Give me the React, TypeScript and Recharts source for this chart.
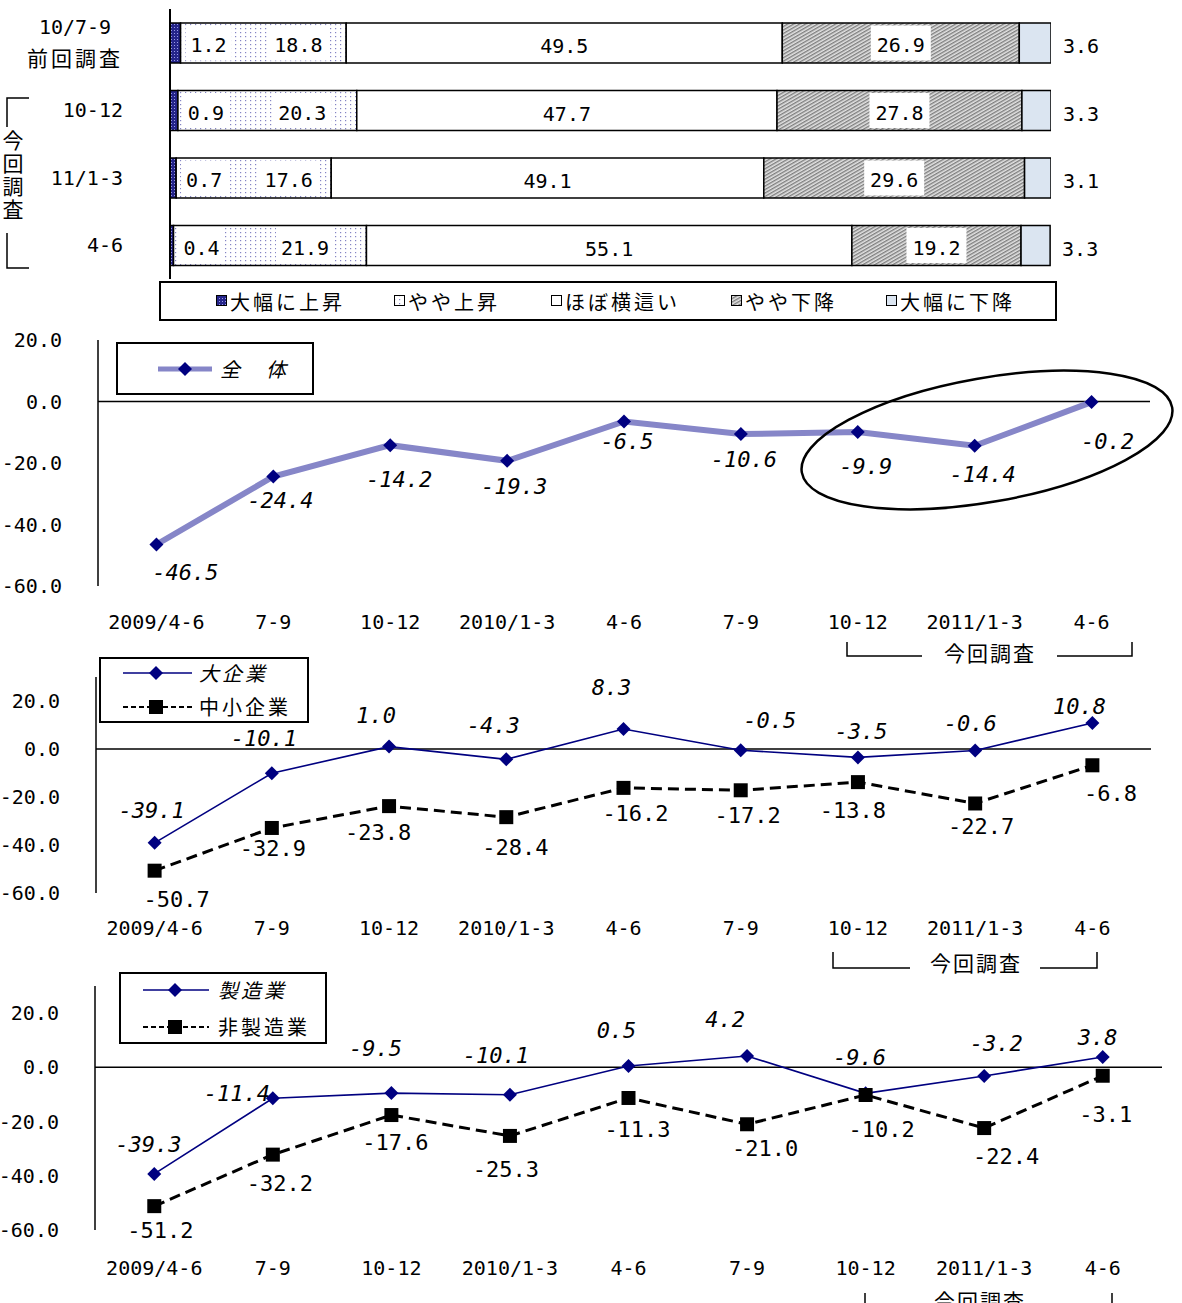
import React from "react";
import {
  BarChart,
  Bar,
  LineChart,
  Line,
  XAxis,
  YAxis,
  ReferenceLine,
  Legend,
} from "recharts";

const NUM_FONT = '"DejaVu Sans Mono", "Noto Sans CJK JP", monospace';
const JP_FONT = '"Noto Sans CJK JP", "Noto Sans", sans-serif';

// --- stacked bar (survey share, %) ---
const surveyRows = ["10/7-9", "10-12", "11/1-3", "4-6"];
const trendNames = ["大幅に上昇", "やや上昇", "ほぼ横這い", "やや下降", "大幅に下降"];
const bigRise = [1.2, 0.9, 0.7, 0.4];
const smallRise = [18.8, 20.3, 17.6, 21.9];
const flatShare = [49.5, 47.7, 49.1, 55.1];
const smallFall = [26.9, 27.8, 29.6, 19.2];
const bigFall = [3.6, 3.3, 3.1, 3.3];

// --- DI lines ---
const quarters = ["2009/4-6", "7-9", "10-12", "2010/1-3", "4-6", "7-9", "10-12", "2011/1-3", "4-6"];
const overall = [-46.5, -24.4, -14.2, -19.3, -6.5, -10.6, -9.9, -14.4, -0.2];
const largeFirms = [-39.1, -10.1, 1.0, -4.3, 8.3, -0.5, -3.5, -0.6, 10.8];
const smallFirms = [-50.7, -32.9, -23.8, -28.4, -16.2, -17.2, -13.8, -22.7, -6.8];
const manufacturing = [-39.3, -11.4, -9.5, -10.1, 0.5, 4.2, -9.6, -3.2, 3.8];
const nonManufacturing = [-51.2, -32.2, -17.6, -25.3, -11.3, -21.0, -10.2, -22.4, -3.1];
const valueTicks = [-60, -40, -20, 0, 20];

// label nudges (px) so the numbers sit where the original put them
const overallShift = [[29, 28], [7, 24], [9, 34], [7, 26], [3, 20], [3, 25], [8, 35], [8, 29], [16, 39]];
const largeShift = [[-3, -32], [-8, -35], [-13, -31], [-13, -34], [-12, -42], [29, -30], [3, -26], [-5, -27], [-13, -17]];
const smallShift = [[22, 29], [1, 21], [-11, 26], [9, 30], [12, 26], [7, 25], [-5, 28], [6, 23], [18, 28]];
const mfgShift = [[-6, -29], [-36, -5], [-16, -45], [-14, -39], [-12, -35], [-22, -36], [-6, -36], [12, -33], [-5, -20]];
const nonMfgShift = [[6, 24], [7, 29], [4, 27], [-4, 34], [9, 32], [18, 24], [16, 35], [22, 28], [3, 39]];

const barFills = ["url(#pBigRise)", "url(#pSmallRise)", "#ffffff", "url(#pSmallFall)", "#dbe5f1"];
const barLegendX = [216, 394, 551, 731, 886];

const geo = (p: any) => {
  const vb = p.viewBox || {};
  return {
    x: Number(vb.x ?? p.x),
    y: Number(vb.y ?? p.y),
    w: Number(vb.width ?? p.width ?? 0),
    h: Number(vb.height ?? p.height ?? 0),
  };
};

const rowIndex = (p: any) => (typeof p.index === "number" ? p.index : 0);

const NumText = ({ x, y, text, size = 20, italic = false, anchor = "middle" }: any) => (
  <text
    x={x}
    y={y}
    textAnchor={anchor}
    dominantBaseline="central"
    fontFamily={NUM_FONT}
    fontSize={size}
    fontStyle={italic ? "italic" : "normal"}
    fill="#000"
  >
    {text}
  </text>
);

const boxed = (cx: number, cy: number, h: number, w: number, text: string) => (
  <g>
    <rect x={cx - w / 2} y={cy - h / 2} width={w} height={h} fill="#fff" />
    <NumText x={cx} y={cy + 2} text={text} />
  </g>
);

// stacked labels: the value given to the label is the stack top, so read the share itself by row
const smallRiseLabel = (p: any) => {
  const { x, y, w, h } = geo(p);
  const i = rowIndex(p);
  const cy = y + h / 2;
  return (
    <g>
      {boxed(x + 28, cy, h - 5, 46, bigRise[i].toFixed(1))}
      {boxed(x + w / 2 + 35, cy, h - 5, 58, smallRise[i].toFixed(1))}
    </g>
  );
};

const flatLabel = (p: any) => {
  const { x, y, w, h } = geo(p);
  return <NumText x={x + w / 2} y={y + h / 2 + 3} text={flatShare[rowIndex(p)].toFixed(1)} />;
};

const smallFallLabel = (p: any) => {
  const { x, y, w, h } = geo(p);
  return boxed(x + w / 2, y + h / 2, h - 5, 60, smallFall[rowIndex(p)].toFixed(1));
};

const bigFallLabel = (p: any) => {
  const { x, y, w, h } = geo(p);
  return <NumText x={x + w + 30} y={y + h / 2 + 3} text={bigFall[rowIndex(p)].toFixed(1)} />;
};

const SurveyTick = ({ x, y, payload }: any) => {
  if (payload.value === surveyRows[0]) {
    return (
      <g fontFamily={NUM_FONT} fill="#000">
        <text x={x - 95} y={y - 16} textAnchor="middle" dominantBaseline="central" fontSize={20}>
          {payload.value}
        </text>
        <text x={x - 95} y={y + 16} textAnchor="middle" dominantBaseline="central" fontSize={21} letterSpacing={3}>
          前回調査
        </text>
      </g>
    );
  }
  return (
    <text x={x - 47} y={y} textAnchor="end" dominantBaseline="central" fontFamily={NUM_FONT} fontSize={20} fill="#000">
      {payload.value}
    </text>
  );
};

const BarLegend = () => (
  <div
    style={{
      width: 898,
      height: 40,
      boxSizing: "border-box",
      border: "2px solid #000",
      background: "#fff",
      position: "relative",
    }}
  >
    {trendNames.map((name, i) => (
      <div
        key={name}
        style={{
          position: "absolute",
          left: barLegendX[i] - 161,
          top: 0,
          height: 36,
          display: "flex",
          alignItems: "center",
          fontFamily: JP_FONT,
          fontSize: 20,
          letterSpacing: 3,
          whiteSpace: "nowrap",
        }}
      >
        <svg width={12} height={12} style={{ marginRight: 2 }}>
          <rect x={0.5} y={0.5} width={10} height={10} fill={barFills[i]} stroke="#000" strokeWidth={1} />
        </svg>
        <span>{name}</span>
      </div>
    ))}
  </div>
);

function SurveyBars() {
  const rows = surveyRows.map((name, i) => ({
    name,
    bigRise: bigRise[i],
    smallRise: smallRise[i],
    flat: flatShare[i],
    smallFall: smallFall[i],
    bigFall: bigFall[i],
  }));
  return (
    <div style={{ position: "absolute", left: 0, top: 0 }}>
      <BarChart
        width={1182}
        height={323}
        data={rows}
        layout="vertical"
        barSize={40}
        margin={{ top: 9, right: 131, left: 0, bottom: 44 }}
      >
        <defs>
          <pattern id="pBigRise" width="3" height="3" patternUnits="userSpaceOnUse">
            <rect width="3" height="3" fill="#25258a" />
            <rect width="1" height="1" fill="#9a9ae6" />
          </pattern>
          <pattern id="pSmallRise" width="5" height="4" patternUnits="userSpaceOnUse">
            <rect width="5" height="4" fill="#ffffff" />
            <rect width="1.2" height="1.2" fill="#8484c4" />
          </pattern>
          <pattern id="pSmallFall" width="3" height="3" patternUnits="userSpaceOnUse" patternTransform="rotate(60)">
            <rect width="3" height="3" fill="#e4e4e4" />
            <rect width="1.4" height="3" fill="#7e7e7e" />
          </pattern>
        </defs>
        <XAxis type="number" domain={[0, 100]} hide allowDataOverflow />
        <YAxis
          type="category"
          dataKey="name"
          width={170}
          axisLine={{ stroke: "#000", strokeWidth: 2 }}
          tickLine={false}
          tickSize={0}
          tickMargin={0}
          tick={<SurveyTick />}
        />
        <Legend
          layout="horizontal"
          verticalAlign="middle"
          align="center"
          content={() => <BarLegend />}
          wrapperStyle={{ left: 159, top: 281, width: 898, height: 40 }}
        />
        <Bar dataKey="bigRise" stackId="s" fill={barFills[0]} stroke="#000" strokeWidth={1.5} isAnimationActive={false} />
        <Bar dataKey="smallRise" stackId="s" fill={barFills[1]} stroke="#000" strokeWidth={1.5} isAnimationActive={false} label={smallRiseLabel} />
        <Bar dataKey="flat" stackId="s" fill={barFills[2]} stroke="#000" strokeWidth={1.5} isAnimationActive={false} label={flatLabel} />
        <Bar dataKey="smallFall" stackId="s" fill={barFills[3]} stroke="#000" strokeWidth={1.5} isAnimationActive={false} label={smallFallLabel} />
        <Bar dataKey="bigFall" stackId="s" fill={barFills[4]} stroke="#000" strokeWidth={1.5} isAnimationActive={false} label={bigFallLabel} />
      </BarChart>
    </div>
  );
}

// --- line panels ---
type LineStyle = "thick" | "thin" | "dashed";
interface SeriesSpec {
  key: string;
  name: string;
  values: number[];
  look: LineStyle;
  shifts: number[][];
  italic: boolean;
}

const markerPath = (look: LineStyle, cx: number, cy: number) =>
  look === "dashed"
    ? `M${cx - 7} ${cy - 7}H${cx + 7}V${cy + 7}H${cx - 7}Z`
    : `M${cx} ${cy - 7}L${cx + 7} ${cy}L${cx} ${cy + 7}L${cx - 7} ${cy}Z`;

const markerFill = (look: LineStyle) => (look === "dashed" ? "#000" : "#000080");
const lineStroke = (look: LineStyle) =>
  look === "thick" ? "#8686c8" : look === "thin" ? "#000080" : "#000";
const lineWidth = (look: LineStyle) => (look === "thick" ? 6 : look === "thin" ? 1.6 : 3);

const makeDot = (look: LineStyle) => (p: any) => {
  if (p.cx == null || p.cy == null) return <g key={`d-${p.index}`} />;
  return <path key={`d-${p.index}`} d={markerPath(look, p.cx, p.cy)} fill={markerFill(look)} />;
};

const makeLabel = (s: SeriesSpec) => (p: any) => {
  const { x, y } = geo(p);
  const i = rowIndex(p);
  const [dx, dy] = s.shifts[i] || [0, 0];
  return <NumText x={x + dx} y={y + dy} text={s.values[i].toFixed(1)} size={22} italic={s.italic} />;
};

const QuarterTick = ({ x, y, payload, gap }: any) => (
  <text x={x} y={y + gap} textAnchor="middle" dominantBaseline="central" fontFamily={NUM_FONT} fontSize={20} fill="#000">
    {quarters[Number(payload.value)]}
  </text>
);

const ValueTick = ({ x, y, payload }: any) => (
  <text x={x - 36} y={y} textAnchor="end" dominantBaseline="central" fontFamily={NUM_FONT} fontSize={20} fill="#000">
    {Number(payload.value).toFixed(1)}
  </text>
);

interface LegendSpec {
  left: number;
  top: number;
  w: number;
  h: number;
  lineX0: number;
  lineX1: number;
  markX: number;
  textX: number;
  rowsY: number[];
}

const LineLegend = ({ spec, series }: { spec: LegendSpec; series: SeriesSpec[] }) => (
  <div
    style={{
      width: spec.w,
      height: spec.h,
      boxSizing: "border-box",
      border: "2px solid #000",
      background: "#fff",
      position: "relative",
    }}
  >
    {series.map((s, i) => (
      <React.Fragment key={s.key}>
        <svg
          width={spec.lineX1 - spec.lineX0}
          height={18}
          style={{ position: "absolute", left: spec.lineX0 - spec.left - 2, top: spec.rowsY[i] - 11 }}
        >
          <line
            x1={0}
            x2={spec.lineX1 - spec.lineX0}
            y1={9}
            y2={9}
            stroke={lineStroke(s.look)}
            strokeWidth={s.look === "thick" ? 5 : s.look === "thin" ? 1.6 : 2}
            strokeDasharray={s.look === "dashed" ? "5 3" : undefined}
          />
          <path d={markerPath(s.look, spec.markX - spec.lineX0, 9)} fill={markerFill(s.look)} />
        </svg>
        <span
          style={{
            position: "absolute",
            left: spec.textX - spec.left - 2,
            top: spec.rowsY[i] - 2,
            transform: "translateY(-50%)",
            fontFamily: JP_FONT,
            fontSize: 20,
            lineHeight: 1,
            fontStyle: s.italic ? "italic" : "normal",
            letterSpacing: 3,
            whiteSpace: "pre",
          }}
        >
          {s.name}
        </span>
      </React.Fragment>
    ))}
  </div>
);

interface PanelProps {
  top: number;
  height: number;
  marginTop: number;
  axisWidth: number;
  marginRight: number;
  yMax: number;
  tickGap: number;
  series: SeriesSpec[];
  legend: LegendSpec;
}

function TrendPanel({ top, height, marginTop, axisWidth, marginRight, yMax, tickGap, series, legend }: PanelProps) {
  const rows = quarters.map((_, i) => {
    const r: any = { i };
    series.forEach((s) => (r[s.key] = s.values[i]));
    return r;
  });
  const pad = (1182 - axisWidth - marginRight) / 18;
  return (
    <div style={{ position: "absolute", left: 0, top }}>
      <LineChart width={1182} height={height} data={rows} margin={{ top: marginTop, right: marginRight, left: 0, bottom: 0 }}>
        <XAxis
          dataKey="i"
          axisLine={false}
          tickLine={false}
          tickSize={0}
          tickMargin={0}
          height={50}
          interval={0}
          padding={{ left: pad, right: pad }}
          tick={<QuarterTick gap={tickGap} />}
        />
        <YAxis
          type="number"
          domain={[-60, yMax]}
          ticks={valueTicks}
          width={axisWidth}
          axisLine={{ stroke: "#000", strokeWidth: 1.5 }}
          tickLine={false}
          tickSize={0}
          tickMargin={0}
          tick={<ValueTick />}
          allowDataOverflow
        />
        <ReferenceLine y={0} stroke="#000" strokeWidth={1.5} />
        <Legend
          layout="horizontal"
          verticalAlign="middle"
          align="center"
          content={() => <LineLegend spec={legend} series={series} />}
          wrapperStyle={{ left: legend.left, top: legend.top, width: legend.w, height: legend.h }}
        />
        {series.map((s) => (
          <Line
            key={s.key}
            type="linear"
            dataKey={s.key}
            name={s.name}
            stroke={lineStroke(s.look)}
            strokeWidth={lineWidth(s.look)}
            strokeDasharray={s.look === "dashed" ? "11 6" : undefined}
            dot={makeDot(s.look)}
            activeDot={false}
            label={makeLabel(s)}
            isAnimationActive={false}
          />
        ))}
      </LineChart>
    </div>
  );
}

const overallSeries: SeriesSpec[] = [
  { key: "overall", name: "全　体", values: overall, look: "thick", shifts: overallShift, italic: true },
];
const sizeSeries: SeriesSpec[] = [
  { key: "large", name: "大企業", values: largeFirms, look: "thin", shifts: largeShift, italic: true },
  { key: "small", name: "中小企業", values: smallFirms, look: "dashed", shifts: smallShift, italic: false },
];
const industrySeries: SeriesSpec[] = [
  { key: "mfg", name: "製造業", values: manufacturing, look: "thin", shifts: mfgShift, italic: true },
  { key: "nonMfg", name: "非製造業", values: nonManufacturing, look: "dashed", shifts: nonMfgShift, italic: false },
];

const bracketText = {
  fontFamily: JP_FONT,
  fontSize: 21,
  letterSpacing: 2,
};

export default function App() {
  return (
    <div style={{ position: "absolute", left: 0, top: 0, width: 1182, height: 1303, background: "#fff", overflow: "hidden" }}>
      <SurveyBars />
      <TrendPanel
        top={320}
        height={316}
        marginTop={20}
        axisWidth={98}
        marginRight={32}
        yMax={20}
        tickGap={36}
        series={overallSeries}
        legend={{ left: 116, top: 22, w: 198, h: 53, lineX0: 158, lineX1: 212, markX: 185, textX: 220, rowsY: [27] }}
      />
      <TrendPanel
        top={650}
        height={293}
        marginTop={27}
        axisWidth={96}
        marginRight={31}
        yMax={30}
        tickGap={35}
        series={sizeSeries}
        legend={{ left: 99, top: 7, w: 210, h: 66, lineX0: 123, lineX1: 192, markX: 156, textX: 199, rowsY: [16, 50] }}
      />
      <TrendPanel
        top={965}
        height={315}
        marginTop={21}
        axisWidth={95}
        marginRight={20}
        yMax={30}
        tickGap={38}
        series={industrySeries}
        legend={{ left: 119, top: 7, w: 208, h: 72, lineX0: 143, lineX1: 209, markX: 175, textX: 218, rowsY: [18, 55] }}
      />

      {/* annotations: survey brackets and the highlighted ellipse */}
      <svg width={1182} height={1303} style={{ position: "absolute", left: 0, top: 0, pointerEvents: "none" }}>
        <g fill="none" stroke="#000" strokeWidth={1.5}>
          <path d="M29 98H7V127" />
          <path d="M7 233V268H29" />
          <path d="M847 642V656H922" />
          <path d="M1057 656H1132V642" />
          <path d="M833 952V968H910" />
          <path d="M1040 968H1097V952" />
          <path d="M865 1293V1310" />
          <path d="M1112 1293V1310" />
          <ellipse cx={987} cy={440} rx={188} ry={62} transform="rotate(-10 987 440)" strokeWidth={2.5} />
        </g>
        <g textAnchor="middle" dominantBaseline="central" fill="#000" style={bracketText}>
          <text x={990} y={652}>今回調査</text>
          <text x={976} y={962}>今回調査</text>
          <text x={980} y={1300}>今回調査</text>
        </g>
      </svg>
      <div
        style={{
          position: "absolute",
          left: 0,
          top: 130,
          width: 26,
          writingMode: "vertical-rl",
          fontFamily: JP_FONT,
          fontSize: 21,
          letterSpacing: 2,
          lineHeight: "26px",
        }}
      >
        今回調査
      </div>
    </div>
  );
}
